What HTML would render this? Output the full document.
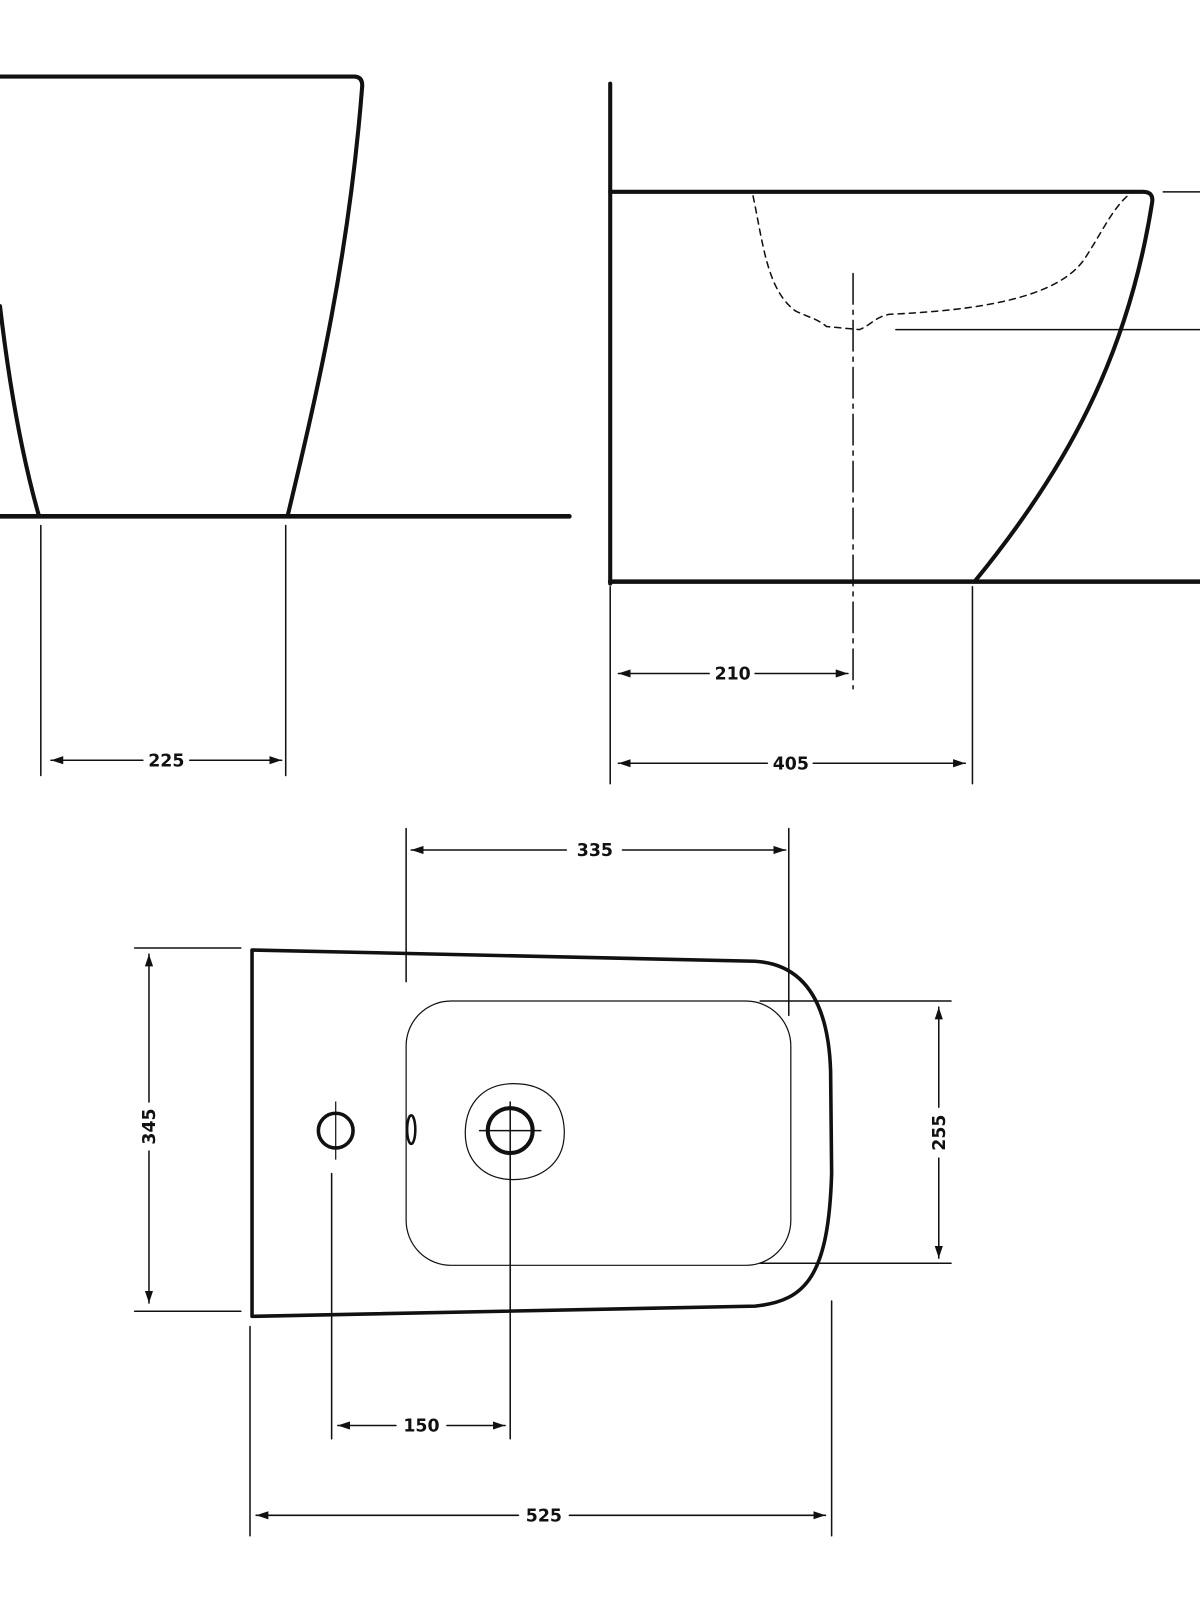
<!DOCTYPE html>
<html><head><meta charset="utf-8"><style>
html,body{margin:0;padding:0;background:#fff;}
svg{display:block;}
text{font-family:"DejaVu Sans","Liberation Sans",sans-serif;font-weight:bold;font-size:17px;fill:#111;}
</style></head><body>
<svg width="1200" height="1600" viewBox="0 0 1176 1568" preserveAspectRatio="none" xmlns="http://www.w3.org/2000/svg">
<defs>
<marker id="a" viewBox="0 0 12 8" refX="12" refY="4" markerWidth="12" markerHeight="8" orient="auto-start-reverse" markerUnits="userSpaceOnUse"><path d="M0,0 L12,4 L0,8 z" fill="#111"/></marker>
</defs>
<g fill="none" stroke="#111" stroke-linecap="round" stroke-linejoin="round">
<!-- Left view -->
<path d="M0,75 L347,75 Q355,75 355,84 C342,250 312,380 282,505" stroke-width="4"/>
<path d="M0,300 Q14,420 38,505" stroke-width="4"/>
<line x1="0" y1="506" x2="558" y2="506" stroke-width="4.5"/>
<line x1="40" y1="515" x2="40" y2="760" stroke-width="1.5"/>
<line x1="280" y1="515" x2="280" y2="760" stroke-width="1.5"/>
<line x1="50" y1="745" x2="140" y2="745" stroke-width="1.5" marker-start="url(#a)"/>
<line x1="186" y1="745" x2="276" y2="745" stroke-width="1.5" marker-end="url(#a)"/>

<!-- Right view -->
<line x1="598" y1="82" x2="598" y2="572" stroke-width="4"/>
<path d="M598,188 L1120,188 Q1131,188 1129,199 C1105,350 1045,460 955,570" stroke-width="4"/>
<line x1="598" y1="570" x2="1176" y2="570" stroke-width="4.5"/>
<line x1="1140" y1="188" x2="1176" y2="188" stroke-width="1.5"/>
<line x1="878" y1="323" x2="1176" y2="323" stroke-width="1.5"/>
<path d="M738,192 C748,240 752,285 780,305 C795,312 800,312 810,320 L842,323 C852,320 858,310 872,308 C960,304 1035,292 1062,255 C1080,228 1092,200 1110,188" stroke-width="1.5" stroke-dasharray="6,5"/>
<line x1="836" y1="268" x2="836" y2="675" stroke-width="1.5" stroke-dasharray="30,6,4,6"/>
<line x1="598" y1="575" x2="598" y2="768" stroke-width="1.5"/>
<line x1="953" y1="575" x2="953" y2="768" stroke-width="1.5"/>
<line x1="606" y1="660" x2="695" y2="660" stroke-width="1.5" marker-start="url(#a)"/>
<line x1="740" y1="660" x2="831" y2="660" stroke-width="1.5" marker-end="url(#a)"/>
<line x1="606" y1="748" x2="752" y2="748" stroke-width="1.5" marker-start="url(#a)"/>
<line x1="797" y1="748" x2="946" y2="748" stroke-width="1.5" marker-end="url(#a)"/>

<!-- Bottom (plan) view -->
<path d="M247,931 L740,942 C790,945 812,985 814,1050 L815,1150 C812,1250 790,1275 740,1280 L247,1290 Z" stroke-width="3.5"/>
<rect x="398" y="981" width="377" height="259" rx="44" ry="44" stroke-width="1.2"/>
<circle cx="329" cy="1108" r="17" stroke-width="3.5"/>
<line x1="329" y1="1080" x2="329" y2="1136" stroke-width="1.2"/>
<ellipse cx="403" cy="1107" rx="4" ry="14" stroke-width="2.5"/>
<path d="M503,1062 C535,1062 552,1080 553,1108 C554,1140 530,1156 503,1156 C475,1156 455,1138 456,1108 C457,1080 475,1062 503,1062 Z" stroke-width="1.2"/>
<circle cx="500" cy="1108" r="22" stroke-width="4"/>
<line x1="470" y1="1108" x2="530" y2="1108" stroke-width="1.5"/>
<line x1="500" y1="1080" x2="500" y2="1136" stroke-width="1.5"/>
<!-- 335 -->
<line x1="398" y1="812" x2="398" y2="962" stroke-width="1.5"/>
<line x1="773" y1="812" x2="773" y2="995" stroke-width="1.5"/>
<line x1="403" y1="833" x2="555" y2="833" stroke-width="1.5" marker-start="url(#a)"/>
<line x1="610" y1="833" x2="770" y2="833" stroke-width="1.5" marker-end="url(#a)"/>
<!-- 345 -->
<line x1="132" y1="929" x2="236" y2="929" stroke-width="1.5"/>
<line x1="132" y1="1285" x2="236" y2="1285" stroke-width="1.5"/>
<line x1="146" y1="935" x2="146" y2="1080" stroke-width="1.5" marker-start="url(#a)"/>
<line x1="146" y1="1128" x2="146" y2="1277" stroke-width="1.5" marker-end="url(#a)"/>
<!-- 255 -->
<line x1="745" y1="981" x2="932" y2="981" stroke-width="1.5"/>
<line x1="745" y1="1238" x2="932" y2="1238" stroke-width="1.5"/>
<line x1="920" y1="987" x2="920" y2="1085" stroke-width="1.5" marker-start="url(#a)"/>
<line x1="920" y1="1135" x2="920" y2="1233" stroke-width="1.5" marker-end="url(#a)"/>
<!-- 150 -->
<line x1="325" y1="1150" x2="325" y2="1410" stroke-width="1.5"/>
<line x1="500" y1="1135" x2="500" y2="1410" stroke-width="1.5"/>
<line x1="331" y1="1397" x2="388" y2="1397" stroke-width="1.5" marker-start="url(#a)"/>
<line x1="438" y1="1397" x2="495" y2="1397" stroke-width="1.5" marker-end="url(#a)"/>
<!-- 525 -->
<line x1="245" y1="1300" x2="245" y2="1505" stroke-width="1.5"/>
<line x1="815" y1="1275" x2="815" y2="1505" stroke-width="1.5"/>
<line x1="251" y1="1485" x2="508" y2="1485" stroke-width="1.5" marker-start="url(#a)"/>
<line x1="558" y1="1485" x2="809" y2="1485" stroke-width="1.5" marker-end="url(#a)"/>
</g>
<text x="163" y="751" text-anchor="middle">225</text>
<text x="718" y="666" text-anchor="middle">210</text>
<text x="775" y="754" text-anchor="middle">405</text>
<text x="583" y="839" text-anchor="middle">335</text>
<text x="413" y="1403" text-anchor="middle">150</text>
<text x="533" y="1491" text-anchor="middle">525</text>
<text transform="translate(152,1104) rotate(-90)" text-anchor="middle">345</text>
<text transform="translate(926,1110) rotate(-90)" text-anchor="middle">255</text>
</svg>
</body></html>
